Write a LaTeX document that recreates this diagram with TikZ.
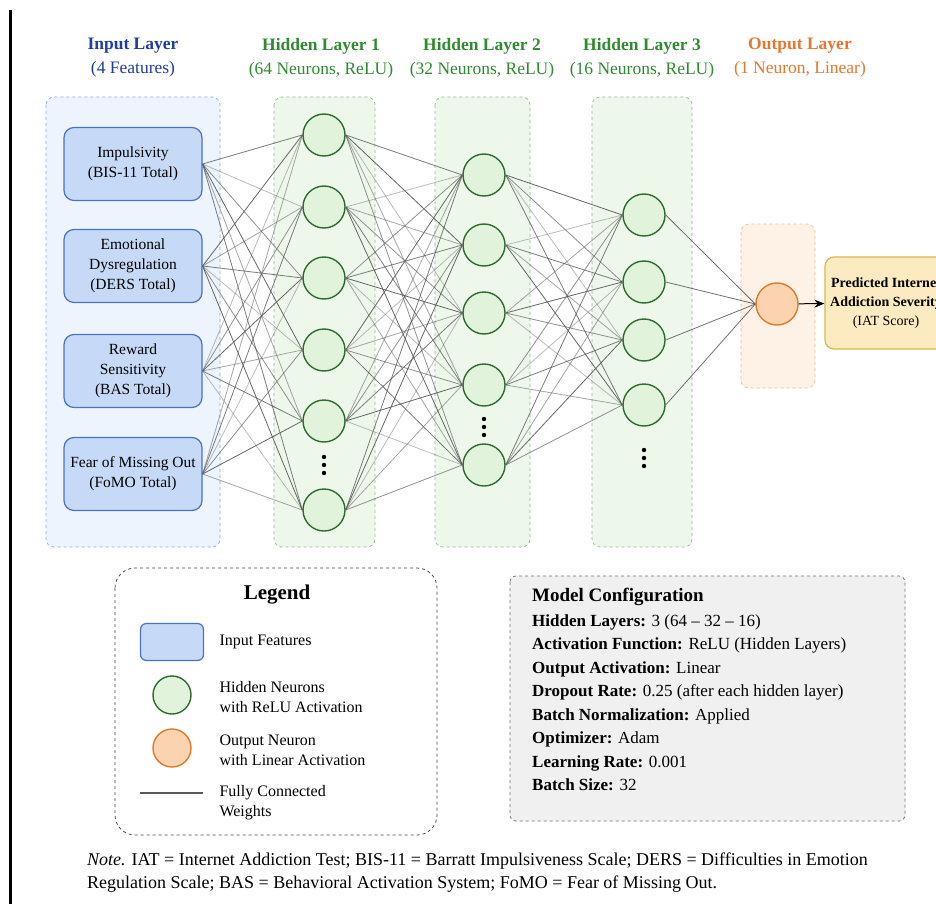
\documentclass[tikz,border=0pt]{standalone}
\usepackage{fontspec}
\setmainfont{Liberation Serif}
\usetikzlibrary{arrows.meta}
\definecolor{inblue}{HTML}{1F3F9F}
\definecolor{hidgreen}{HTML}{2E8B2E}
\definecolor{outorange}{HTML}{E8772E}
\definecolor{featfill}{HTML}{C6D9F7}
\definecolor{featedge}{HTML}{4A72C4}
\definecolor{neufill}{HTML}{E2F3DC}
\definecolor{neuedge}{HTML}{2E6B2E}
\definecolor{outfill}{HTML}{FBD3B0}
\definecolor{outedge}{HTML}{E07B28}
\definecolor{predfill}{HTML}{FCEBC0}
\definecolor{prededge}{HTML}{D9B74A}
\begin{document}
\begin{tikzpicture}[x=1pt,y=-1pt,
	layerbox/.style={dashed, rounded corners=8pt, line width=0.7pt},
	feature/.style={draw=featedge, fill=featfill, rounded corners=10pt, line width=1.2pt, minimum width=138pt, minimum height=73pt, align=center, font=\fontsize{15.5}{20}\selectfont},
	neuron/.style={circle, draw=neuedge, fill=neufill, line width=1.4pt, minimum size=42pt, inner sep=0pt},
	outneuron/.style={circle, draw=outedge, fill=outfill, line width=1.4pt, minimum size=42pt, inner sep=0pt},
	weight/.style={draw=black!65, line width=0.8pt},
	title/.style={align=center, font=\fontsize{17.5}{24}\selectfont},
	legtext/.style={anchor=west, align=left, font=\fontsize{16}{20}\selectfont}]
			\useasboundingbox (0,0) rectangle (936,904);
			\clip (0,0) rectangle (936,904);
			\fill[white] (0,0) rectangle (936,904);
			\draw[line width=3pt] (10,10) -- (10,904);
			% layer titles
			\node[title, text=inblue] at (133,58) (t0) {\textbf{Input Layer}\\(4 Features)};
			\node[title, text=hidgreen] at (321,58) (t1) {\textbf{Hidden Layer 1}\\(64 Neurons, ReLU)};
			\node[title, text=hidgreen] at (482,58) (t2) {\textbf{Hidden Layer 2}\\(32 Neurons, ReLU)};
			\node[title, text=hidgreen] at (642,58) (t3) {\textbf{Hidden Layer 3}\\(16 Neurons, ReLU)};
			\node[title, text=outorange] at (800,58) (t4) {\textbf{Output Layer}\\(1 Neuron, Linear)};
			% layer backgrounds
			\filldraw[layerbox, draw=featedge!60, fill=featfill!30] (46,97) rectangle (220,547);
			\filldraw[layerbox, draw=neuedge!50, fill=neufill!60] (274,97) rectangle (375,547);
			\filldraw[layerbox, draw=neuedge!50, fill=neufill!60] (435,97) rectangle (530,547);
			\filldraw[layerbox, draw=neuedge!50, fill=neufill!60] (592,97) rectangle (692,547);
			\filldraw[layerbox, draw=outedge!50, fill=outfill!30] (741,224) rectangle (815,388);
			% input features
			\node[feature] at (133,164) (in1) {Impulsivity\\(BIS-11 Total)};
			\node[feature] at (133,266) (in2) {Emotional\\Dysregulation\\(DERS Total)};
			\node[feature] at (133,371) (in3) {Reward\\Sensitivity\\(BAS Total)};
			\node[feature] at (133,474) (in4) {Fear of Missing Out\\(FoMO Total)};
			% hidden layer 1
			\node[neuron] at (324,135) (a1) {};
			\node[neuron] at (324,207) (a2) {};
			\node[neuron] at (324,278) (a3) {};
			\node[neuron] at (324,350) (a4) {};
			\node[neuron] at (324,421) (a5) {};
			\node[neuron] at (324,510) (a6) {};
			% hidden layer 2
			\node[neuron] at (484,175) (b1) {};
			\node[neuron] at (484,245) (b2) {};
			\node[neuron] at (484,313) (b3) {};
			\node[neuron] at (484,385) (b4) {};
			\node[neuron] at (484,465) (b5) {};
			% hidden layer 3
			\node[neuron] at (644,215) (c1) {};
			\node[neuron] at (644,282) (c2) {};
			\node[neuron] at (644,340) (c3) {};
			\node[neuron] at (644,405) (c4) {};
			% output
			\node[outneuron] at (777,304) (out) {};
			\node[draw=prededge, fill=predfill, line width=1.2pt, rounded corners=9pt, minimum width=122pt, minimum height=92pt, align=center, font=\fontsize{14}{19}\selectfont] at (886,303) (pred) {\textbf{Predicted Internet}\\\textbf{Addiction Severity}\\(IAT Score)};
			\draw[-{Stealth[length=10pt,width=8pt]}, line width=1pt] (out) -- (pred);
			% ellipsis dots
			\foreach \x/\y in {324/465, 484/427, 644/458}
				\fill (\x,\y-8) circle (2.2) (\x,\y) circle (2.2) (\x,\y+8) circle (2.2);
			% weights
			\foreach \i in {1,...,4}
				\foreach \j in {1,...,6}{
					\pgfmathsetmacro{\op}{0.4+0.13*mod(\i+2*\j,5)}
					\draw[weight, opacity=\op] (in\i.east) -- (a\j.west);
				}
			\foreach \i in {1,...,6}
				\foreach \j in {1,...,5}{
					\pgfmathsetmacro{\op}{0.4+0.13*mod(2*\i+\j,5)}
					\draw[weight, opacity=\op] (a\i.east) -- (b\j.west);
				}
			\foreach \i in {1,...,5}
				\foreach \j in {1,...,4}{
					\pgfmathsetmacro{\op}{0.4+0.13*mod(\i+3*\j,5)}
					\draw[weight, opacity=\op] (b\i.east) -- (c\j.west);
				}
			\foreach \i in {1,...,4}
				\draw[weight, opacity=0.85] (c\i.east) -- (out.west);
			% legend
			\draw[dashed, line width=0.8pt, rounded corners=20pt, black!70] (115,568) rectangle (437,835);
			\node[font=\fontsize{21}{24}\selectfont\bfseries] at (277,595) (legtitle) {Legend};
			\node[draw=featedge, fill=featfill, rounded corners=6pt, line width=1.2pt, minimum width=63pt, minimum height=37pt] at (172,642) (lfeat) {};
			\node[legtext] at (216,642) (lfeattext) {Input Features};
			\node[neuron, minimum size=38pt] at (172,695) (lhid) {};
			\node[legtext] at (216,697) (lhidtext) {Hidden Neurons\\with ReLU Activation};
			\node[outneuron, minimum size=38pt] at (172,748) (lout) {};
			\node[legtext] at (216,750) (louttext) {Output Neuron\\with Linear Activation};
			\coordinate (lw1) at (140,793);
			\coordinate (lw2) at (203,793);
			\draw[weight, line width=1.2pt] (lw1) -- (lw2);
			\node[legtext] at (216,803) (lwtext) {Fully Connected\\Weights};
			% model configuration
			\filldraw[dashed, line width=0.8pt, rounded corners=6pt, draw=black!55, fill=black!6] (510,576) rectangle (905,821);
			\node[anchor=north west, inner sep=0pt, font=\fontsize{19}{22}\selectfont\bfseries] at (532,588) (cfgtitle) {Model Configuration};
			\node[anchor=north west, inner sep=0pt, align=left, font=\fontsize{17}{23.5}\selectfont] at (532,614) (cfg) {%
				\textbf{Hidden Layers:} 3 (64 -- 32 -- 16)\\
				\textbf{Activation Function:} ReLU (Hidden Layers)\\
				\textbf{Output Activation:} Linear\\
				\textbf{Dropout Rate:} 0.25 (after each hidden layer)\\
				\textbf{Batch Normalization:} Applied\\
				\textbf{Optimizer:} Adam\\
				\textbf{Learning Rate:} 0.001\\
				\textbf{Batch Size:} 32};
			% note
			\node[anchor=north west, inner sep=0pt, align=left, font=\fontsize{18}{23}\selectfont] at (87,853) (note) {%
				\textit{Note.} IAT = Internet Addiction Test; BIS-11 = Barratt Impulsiveness Scale; DERS = Difficulties in Emotion\\
				Regulation Scale; BAS = Behavioral Activation System; FoMO = Fear of Missing Out.};
		\end{tikzpicture}
\end{document}
